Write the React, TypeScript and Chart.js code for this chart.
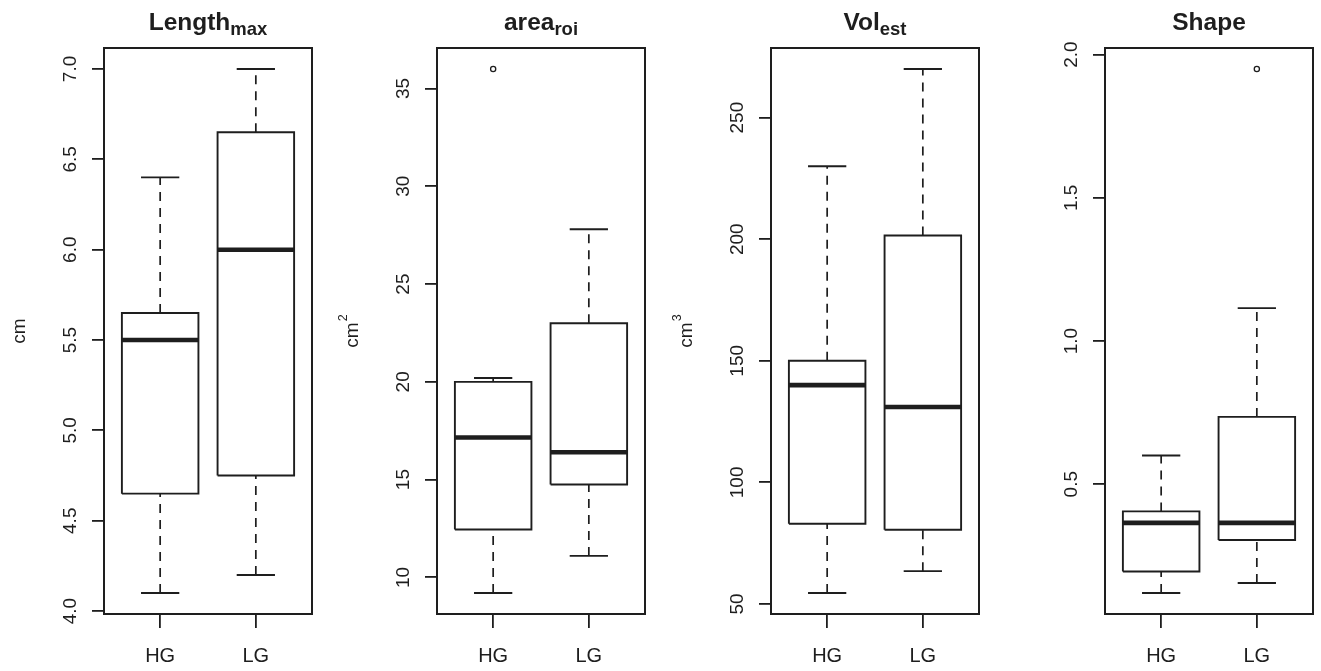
import React, { useEffect, useRef } from "react";
import { Chart, registerables } from "chart.js";

Chart.register(...registerables);

const groups = ["HG", "LG"];

// Panel 1: Length_max (cm)
const lengthLower = [4.1, 4.2];
const lengthQ1 = [4.65, 4.75];
const lengthMedian = [5.5, 6.0];
const lengthQ3 = [5.65, 6.65];
const lengthUpper = [6.4, 7.0];
const lengthOutliers: number[][] = [[], []];
const lengthTicks = [4.0, 4.5, 5.0, 5.5, 6.0, 6.5, 7.0];

// Panel 2: area_roi (cm^2)
const areaLower = [9.2, 11.1];
const areaQ1 = [12.45, 14.75];
const areaMedian = [17.15, 16.4];
const areaQ3 = [20.0, 23.0];
const areaUpper = [20.2, 27.8];
const areaOutliers: number[][] = [[36.0], []];
const areaTicks = [10, 15, 20, 25, 30, 35];

// Panel 3: Vol_est (cm^3)
const volLower = [54.5, 63.5];
const volQ1 = [83, 80.5];
const volMedian = [140, 131];
const volQ3 = [150, 201.5];
const volUpper = [230, 270];
const volOutliers: number[][] = [[], []];
const volTicks = [50, 100, 150, 200, 250];

// Panel 4: Shape
const shapeLower = [0.12, 0.155];
const shapeQ1 = [0.195, 0.305];
const shapeMedian = [0.365, 0.365];
const shapeQ3 = [0.405, 0.735];
const shapeUpper = [0.6, 1.115];
const shapeOutliers: number[][] = [[], [1.95]];
const shapeTicks = [0.5, 1.0, 1.5, 2.0];

const INK = "#1e1e1e";
const FONT = "'Liberation Sans', Arial, Helvetica, sans-serif";
const X_MIN = 0.413;
const X_MAX = 2.587;
const BOX_HALF = 0.4;
const CAP_HALF = 0.2;

type Panel = {
  title: string;
  sub: string;
  unit: string;
  sup: string;
  lower: number[];
  q1: number[];
  median: number[];
  q3: number[];
  upper: number[];
  outliers: number[][];
  ticks: number[];
  decimals: number;
  left: number;
};

const panels: Panel[] = [
  { title: "Length", sub: "max", unit: "cm", sup: "", lower: lengthLower, q1: lengthQ1, median: lengthMedian, q3: lengthQ3, upper: lengthUpper, outliers: lengthOutliers, ticks: lengthTicks, decimals: 1, left: 0 },
  { title: "area", sub: "roi", unit: "cm", sup: "2", lower: areaLower, q1: areaQ1, median: areaMedian, q3: areaQ3, upper: areaUpper, outliers: areaOutliers, ticks: areaTicks, decimals: 0, left: 333 },
  { title: "Vol", sub: "est", unit: "cm", sup: "3", lower: volLower, q1: volQ1, median: volMedian, q3: volQ3, upper: volUpper, outliers: volOutliers, ticks: volTicks, decimals: 0, left: 667 },
  { title: "Shape", sub: "", unit: "", sup: "", lower: shapeLower, q1: shapeQ1, median: shapeMedian, q3: shapeQ3, upper: shapeUpper, outliers: shapeOutliers, ticks: shapeTicks, decimals: 1, left: 1001 },
];

function buildDatasets(p: Panel) {
  const ds: any[] = [];
  const line = { showLine: true, pointRadius: 0, borderColor: INK, fill: false, tension: 0, borderCapStyle: "butt", borderJoinStyle: "miter" };
  groups.forEach((_, i) => {
    const x = i + 1;
    ds.push({ ...line, borderWidth: 1.7, borderDash: [9, 7], data: [{ x, y: p.q3[i] }, { x, y: p.upper[i] }] });
    ds.push({ ...line, borderWidth: 1.7, borderDash: [9, 7], data: [{ x, y: p.lower[i] }, { x, y: p.q1[i] }] });
    ds.push({ ...line, borderWidth: 1.9, data: [{ x: x - CAP_HALF, y: p.upper[i] }, { x: x + CAP_HALF, y: p.upper[i] }] });
    ds.push({ ...line, borderWidth: 1.9, data: [{ x: x - CAP_HALF, y: p.lower[i] }, { x: x + CAP_HALF, y: p.lower[i] }] });
    ds.push({
      ...line,
      borderWidth: 1.9,
      data: [
        { x: x - BOX_HALF, y: p.q1[i] },
        { x: x + BOX_HALF, y: p.q1[i] },
        { x: x + BOX_HALF, y: p.q3[i] },
        { x: x - BOX_HALF, y: p.q3[i] },
        { x: x - BOX_HALF, y: p.q1[i] },
      ],
    });
    ds.push({ ...line, borderWidth: 4.6, data: [{ x: x - BOX_HALF, y: p.median[i] }, { x: x + BOX_HALF, y: p.median[i] }] });
    if (p.outliers[i].length) {
      ds.push({
        showLine: false,
        data: p.outliers[i].map((v) => ({ x, y: v })),
        pointRadius: 2.6,
        pointBorderWidth: 1.3,
        pointBorderColor: INK,
        pointBackgroundColor: "rgba(0,0,0,0)",
        pointStyle: "circle",
      });
    }
  });
  return ds;
}

function yLimits(p: Panel) {
  const all = [...p.lower, ...p.q1, ...p.median, ...p.q3, ...p.upper, ...p.outliers.flat()];
  const lo = Math.min(...all);
  const hi = Math.max(...all);
  const pad = (hi - lo) * 0.04;
  return { min: lo - pad, max: hi + pad };
}

function decor(p: Panel) {
  return {
    id: "decor",
    afterDraw(chart: any) {
      const { ctx, chartArea: a, scales } = chart;
      const y = scales.y;
      ctx.save();
      // frame
      ctx.strokeStyle = INK;
      ctx.lineWidth = 2;
      ctx.strokeRect(a.left, a.top, a.right - a.left, a.bottom - a.top);
      ctx.fillStyle = INK;
      // y tick labels (rotated like R)
      ctx.font = `19px ${FONT}`;
      ctx.textAlign = "center";
      ctx.textBaseline = "alphabetic";
      p.ticks.forEach((v) => {
        const py = y.getPixelForValue(v);
        ctx.save();
        ctx.translate(a.left - 28, py);
        ctx.rotate(-Math.PI / 2);
        ctx.fillText(v.toFixed(p.decimals), 0, 0);
        ctx.restore();
      });
      // y axis title
      if (p.unit) {
        const cy = (a.top + a.bottom) / 2;
        ctx.font = `19px ${FONT}`;
        const wu = ctx.measureText(p.unit).width;
        ctx.font = `12.5px ${FONT}`;
        const ws = p.sup ? ctx.measureText(p.sup).width + 1 : 0;
        const total = wu + ws;
        ctx.save();
        ctx.translate(a.left - 79, cy);
        ctx.rotate(-Math.PI / 2);
        ctx.textAlign = "left";
        ctx.font = `19px ${FONT}`;
        ctx.fillText(p.unit, -total / 2, 0);
        if (p.sup) {
          ctx.font = `12.5px ${FONT}`;
          ctx.fillText(p.sup, -total / 2 + wu + 1, -11);
        }
        ctx.restore();
      }
      // title
      const cx = (a.left + a.right) / 2;
      ctx.font = `bold 24.5px ${FONT}`;
      const wm = ctx.measureText(p.title).width;
      ctx.font = `bold 18.5px ${FONT}`;
      const wsub = p.sub ? ctx.measureText(p.sub).width : 0;
      const x0 = cx - (wm + wsub) / 2;
      ctx.textAlign = "left";
      ctx.font = `bold 24.5px ${FONT}`;
      ctx.fillText(p.title, x0, 30);
      if (p.sub) {
        ctx.font = `bold 18.5px ${FONT}`;
        ctx.fillText(p.sub, x0 + wm, 35);
      }
      ctx.restore();
    },
  };
}

function PanelChart({ p }: { p: Panel }) {
  const ref = useRef<HTMLCanvasElement | null>(null);
  useEffect(() => {
    if (!ref.current) return;
    const lim = yLimits(p);
    const chart = new Chart(ref.current, {
      type: "scatter",
      data: { datasets: buildDatasets(p) },
      options: {
        animation: false,
        responsive: false,
        events: [],
        layout: { padding: { top: 48, right: 8, left: 0, bottom: 0 } },
        plugins: { legend: { display: false }, tooltip: { enabled: false }, title: { display: false } },
        scales: {
          x: {
            type: "linear",
            min: X_MIN,
            max: X_MAX,
            afterBuildTicks: (s: any) => {
              s.ticks = groups.map((_, i) => ({ value: i + 1 }));
            },
            afterFit: (s: any) => {
              s.height = 57;
            },
            grid: { drawOnChartArea: false, drawTicks: true, tickLength: 14, color: INK, lineWidth: 1.8 },
            border: { display: false },
            ticks: {
              autoSkip: false,
              maxRotation: 0,
              minRotation: 0,
              padding: 16,
              color: INK,
              font: { family: FONT, size: 20 },
              callback: (v: any) => groups[Math.round(Number(v)) - 1] ?? "",
            },
          },
          y: {
            type: "linear",
            min: lim.min,
            max: lim.max,
            afterBuildTicks: (s: any) => {
              s.ticks = p.ticks.map((v) => ({ value: v }));
            },
            afterFit: (s: any) => {
              s.width = 104;
            },
            grid: { drawOnChartArea: false, drawTicks: true, tickLength: 12, color: INK, lineWidth: 1.8 },
            border: { display: false },
            ticks: { display: false },
          },
        },
      } as any,
      plugins: [decor(p)],
    });
    return () => chart.destroy();
  }, [p]);
  return (
    <canvas
      ref={ref}
      width={320}
      height={671}
      style={{ position: "absolute", left: p.left, top: 0, width: 320, height: 671 }}
    />
  );
}

export default function App() {
  return (
    <div style={{ position: "absolute", left: 0, top: 0, width: 1321, height: 671, overflow: "hidden", background: "#fff" }}>
      {panels.map((p) => (
        <PanelChart key={p.title} p={p} />
      ))}
    </div>
  );
}
